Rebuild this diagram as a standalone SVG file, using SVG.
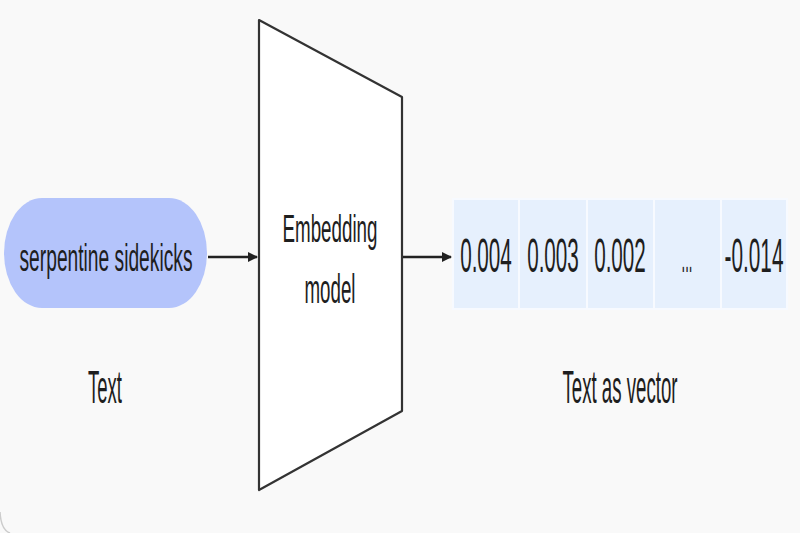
<svg xmlns="http://www.w3.org/2000/svg" width="800" height="533" viewBox="0 0 800 533">
  <defs>
    <marker id="arrow" viewBox="0 0 10 10" refX="9" refY="5" markerWidth="4" markerHeight="4" orient="auto" markerUnits="strokeWidth">
      <path d="M0,0 L10,5 L0,10 z" fill="#222"/>
    </marker>
  </defs>
  <style>
    .t { font-family: "Liberation Sans", Arial, sans-serif; fill: #1e1e1e; text-anchor: middle; }
    .cell { fill: #e6f0fd; stroke: #f7faff; stroke-width: 2; }
    .conn { stroke: #222; stroke-width: 2.5; fill: none; }
  </style>
  <rect x="0" y="0" width="800" height="533" fill="#f9f9f9"/>
  <path d="M0,512 Q1,530 10,533" fill="none" stroke="#ccc" stroke-width="1.5"/>

  <g id="input-text">
    <rect x="4" y="198" width="203" height="110" rx="38" ry="55" fill="#b4c4fb"/>
    <text class="t" transform="translate(106,271) scale(0.5,1)" font-size="38" textLength="346" lengthAdjust="spacingAndGlyphs">serpentine sidekicks</text>
  </g>
  <g id="label-text">
    <text class="t" transform="translate(105,403) scale(0.5,1)" font-size="46" textLength="68" lengthAdjust="spacingAndGlyphs">Text</text>
  </g>

  <g id="embedding-model">
    <path d="M259,20 L402,97 L402,411 L259,490 Z" fill="#ffffff" stroke="#333" stroke-width="2.2" stroke-linejoin="round"/>
    <text class="t" transform="translate(330,242) scale(0.5,1)" font-size="38" textLength="190" lengthAdjust="spacingAndGlyphs">Embedding</text>
    <text class="t" transform="translate(330,303) scale(0.5,1)" font-size="40" textLength="102" lengthAdjust="spacingAndGlyphs">model</text>
  </g>

  <g id="vector">
    <rect class="cell" x="453" y="199" width="66" height="110"/>
    <rect class="cell" x="519" y="199" width="68" height="110"/>
    <rect class="cell" x="587" y="199" width="67" height="110"/>
    <rect class="cell" x="654" y="199" width="67" height="110"/>
    <rect class="cell" x="721" y="199" width="66" height="110"/>
    <text class="t" transform="translate(486,272) scale(0.45,1)" font-size="48" textLength="115" lengthAdjust="spacingAndGlyphs">0.004</text>
    <text class="t" transform="translate(553,272) scale(0.45,1)" font-size="48" textLength="115" lengthAdjust="spacingAndGlyphs">0.003</text>
    <text class="t" transform="translate(620,272) scale(0.45,1)" font-size="48" textLength="115" lengthAdjust="spacingAndGlyphs">0.002</text>
    <text class="t" transform="translate(687,272) scale(0.45,1)" font-size="48" textLength="24" lengthAdjust="spacingAndGlyphs">...</text>
    <text class="t" transform="translate(754,272) scale(0.45,1)" font-size="48" textLength="131" lengthAdjust="spacingAndGlyphs">-0.014</text>
  </g>
  <g id="label-vector">
    <text class="t" transform="translate(620,403) scale(0.5,1)" font-size="46" textLength="230" lengthAdjust="spacingAndGlyphs">Text as vector</text>
  </g>

  <g id="connectors">
    <line class="conn" x1="208" y1="257" x2="257" y2="257" marker-end="url(#arrow)"/>
    <line class="conn" x1="403" y1="257" x2="451" y2="257" marker-end="url(#arrow)"/>
  </g>
</svg>
